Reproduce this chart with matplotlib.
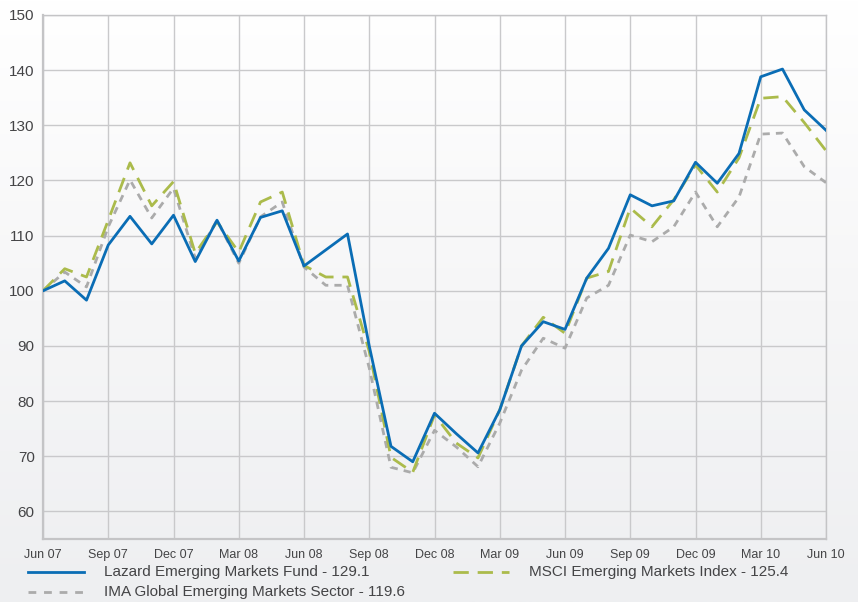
import numpy as np
import pandas as pd
import matplotlib
matplotlib.use("Agg")
import matplotlib.pyplot as plt
from matplotlib.lines import Line2D

plt.rcParams['font.family'] = ['Liberation Sans', 'DejaVu Sans']

months = pd.date_range("2007-06-30", "2010-06-30", freq="ME")
tick_labels = ["Jun 07", "Sep 07", "Dec 07", "Mar 08", "Jun 08", "Sep 08", "Dec 08",
               "Mar 09", "Jun 09", "Sep 09", "Dec 09", "Mar 10", "Jun 10"]

fund = [100.0, 101.8, 98.3, 108.3, 113.5, 108.5, 113.7, 105.3, 112.8, 105.4, 113.3, 114.5,
        104.5, 107.4, 110.3, 90.0, 71.8, 69.0, 77.8, 74.1, 70.6, 78.4, 90.0, 94.4,
        93.0, 102.3, 107.7, 117.4, 115.4, 116.3, 123.3, 119.5, 124.9, 138.8, 140.2, 132.8, 129.1]
msci = [100.0, 104.0, 102.5, 112.8, 123.2, 115.4, 119.8, 106.8, 112.5, 107.0, 116.1, 117.9,
        104.6, 102.5, 102.5, 89.0, 69.8, 67.1, 77.5, 72.4, 69.7, 78.4, 90.0, 95.2,
        92.3, 102.3, 103.5, 115.0, 111.6, 116.5, 122.8, 117.9, 124.1, 134.9, 135.2, 130.5, 125.4]
ima = [100.0, 103.4, 100.7, 111.6, 120.1, 113.2, 118.6, 105.9, 112.8, 105.0, 113.4, 116.1,
       104.3, 101.0, 101.0, 86.0, 68.0, 67.0, 74.7, 71.7, 68.1, 76.0, 85.6, 91.4,
       89.6, 98.7, 101.0, 110.1, 108.9, 111.6, 117.9, 111.6, 117.0, 128.4, 128.6, 122.5, 119.6]

series = [
    ("Lazard Emerging Markets Fund - 129.1", fund, "#0a6db5", None),
    ("MSCI Emerging Markets Index - 125.4", msci, "#abbb4b", (0, (5.5, 3.2))),
    ("IMA Global Emerging Markets Sector - 119.6", ima, "#ababab", (0, (2.8, 2.8))),
]
text_color = "#444446"

fig = plt.figure(figsize=(8.58, 6.02), dpi=100)

# soft vertical gradient behind everything
bg = fig.add_axes([0, 0, 1, 1], zorder=-10)
grad = np.linspace(0, 1, 256).reshape(-1, 1)
cmap = matplotlib.colors.LinearSegmentedColormap.from_list("bg", ["#ffffff", "#f6f6f7", "#eeeff1"])
bg.imshow(grad, aspect="auto", cmap=cmap, extent=[0, 1, 0, 1], origin="upper")
bg.axis("off")

ax = fig.add_axes([43 / 858, 1 - 539 / 602, 783 / 858, 524 / 602])
ax.set_facecolor("none")

x = np.arange(len(months))
ax.plot(x, ima, color="#ababab", lw=2.0, linestyle=(0, (2.6, 2.2)), zorder=3)
ax.plot(x, msci, color="#abbb4b", lw=2.0, linestyle=(0, (5.5, 3.2)), zorder=4)
ax.plot(x, fund, color="#0a6db5", lw=2.0, zorder=5)

ax.set_xlim(0, len(months) - 1)
ax.set_ylim(55, 150)
ax.set_xticks(np.arange(0, len(months), 3))
ax.set_xticklabels(tick_labels)
ax.set_yticks(np.arange(60, 151, 10))
ax.grid(True, color="#c9c9cb", lw=1.0)
ax.set_axisbelow(True)
ax.tick_params(length=0, colors=text_color)
ax.tick_params(axis="y", labelsize=11, pad=6)
ax.tick_params(axis="x", labelsize=9, pad=7)
for s in ax.spines.values():
    s.set_color("#c4c4c6")
    s.set_linewidth(1.0)
ax.spines["left"].set_linewidth(1.6)
ax.spines["bottom"].set_linewidth(1.6)

# legend drawn below the axes
legend_pos = [(28, 572), (453, 572), (28, 592)]
for (label, _, color, dash), (px, py) in zip(series, legend_pos):
    fy = 1 - py / 602
    ln = Line2D([px / 858, (px + 56) / 858], [fy, fy], transform=fig.transFigure,
                color=color, lw=2.0)
    if dash is not None:
        ln.set_linestyle(dash)
    fig.add_artist(ln)
    fig.text((px + 76) / 858, fy, label, fontsize=11, color=text_color, va="center")

fig.savefig("out.png", dpi=100)
